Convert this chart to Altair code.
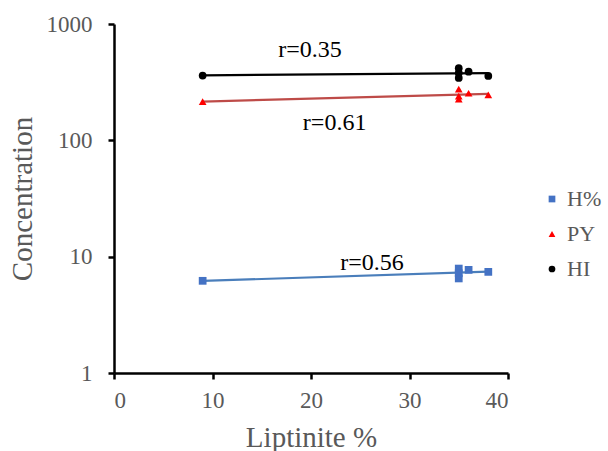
import altair as alt
import pandas as pd

liptinite = [9, 35, 35, 35, 36, 38]
h_pct = [6.2, 7.9, 7.2, 6.5, 7.7, 7.4]
py = [215, 275, 240, 226, 254, 246]
hi = [360, 417, 380, 344, 389, 358]

series = ["H%", "PY", "HI"]
colors = ["#4472C4", "#FF0000", "#000000"]
line_colors = ["#4A7EBB", "#BE4B48", "#000000"]
shapes = ["square", "triangle-up", "circle"]

ann_text = ["r=0.35", "r=0.61", "r=0.56"]
ann_x = [19.9, 22.4, 26.2]
ann_y = [598, 141, 8.8]

rows = []
for name, vals in zip(series, [h_pct, py, hi]):
    for xv, yv in zip(liptinite, vals):
        rows.append({"Liptinite": xv, "Concentration": yv, "Series": name})
df = pd.DataFrame(rows)
ann = pd.DataFrame({"text": ann_text, "x": ann_x, "y": ann_y})

FONT = "Liberation Serif"
GRAY = "#595959"

xscale = alt.Scale(domain=[0, 40], nice=False, zero=False)
yscale = alt.Scale(type="log", domain=[1, 1000], nice=False)

xaxis = alt.Axis(values=[0, 10, 20, 30, 40], title="Liptinite %", titlePadding=11, labelPadding=10)
yaxis = alt.Axis(values=[1, 10, 100, 1000], format="d", title="Concentration", titlePadding=9, labelPadding=16)

X = alt.X("Liptinite:Q", scale=xscale, axis=xaxis)
Y = alt.Y("Concentration:Q", scale=yscale, axis=yaxis)

base = alt.Chart(df)

line_layers = []
for name, lc in zip(series, line_colors):
    line_layers.append(
        base.transform_filter(alt.datum.Series == name)
        .transform_regression("Liptinite", "Concentration", method="linear")
        .mark_line(strokeWidth=2.2, color=lc)
        .encode(x=X, y=Y)
    )

legend = alt.Legend(title=None, orient="none", legendX=427, legendY=164,
                    labelFont=FONT, labelFontSize=22, labelColor=GRAY,
                    symbolSize=45, rowPadding=13, labelOffset=4)

points = base.mark_point(filled=True, size=60, opacity=1).encode(
    x=X, y=Y,
    color=alt.Color("Series:N", scale=alt.Scale(domain=series, range=colors), legend=legend),
    shape=alt.Shape("Series:N", scale=alt.Scale(domain=series, range=shapes), legend=legend),
)

texts = alt.Chart(ann).mark_text(font=FONT, fontSize=24, color="black").encode(
    x=alt.X("x:Q", scale=xscale, axis=xaxis),
    y=alt.Y("y:Q", scale=yscale, axis=yaxis),
    text="text:N",
)

chart = alt.layer(*line_layers, points, texts).properties(
    width=394, height=349,
    autosize=alt.AutoSizeParams(type="none"),
    padding={"left": 114, "top": 24, "right": 100, "bottom": 78},
    background="white",
).configure_view(stroke=None).configure_axis(
    grid=False, domainColor="black", domainWidth=2.5,
    tickColor="black", tickWidth=2.5, tickSize=6,
    labelFont=FONT, labelFontSize=23, labelColor=GRAY,
    titleFont=FONT, titleFontSize=29, titleColor=GRAY, titleFontWeight="normal",
)

chart.save("out.html", embed_options={"renderer": "svg", "actions": False})
